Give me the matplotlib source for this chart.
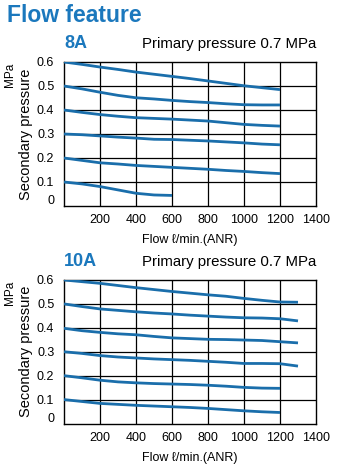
import matplotlib
matplotlib.use("Agg")
import matplotlib.pyplot as plt

plt.rcParams['font.family'] = ['Liberation Sans', 'DejaVu Sans']

# ---- data (every 100 l/min) ----
flow_1200 = [0, 100, 200, 300, 400, 500, 600, 700, 800, 900, 1000, 1100, 1200]
flow_1300 = flow_1200 + [1300]
flow_600 = [0, 100, 200, 300, 400, 500, 600]

p8a_06 = [0.600, 0.590, 0.579, 0.569, 0.558, 0.549, 0.540, 0.531, 0.521, 0.511, 0.501, 0.493, 0.485]
p8a_05 = [0.500, 0.488, 0.474, 0.461, 0.451, 0.446, 0.440, 0.435, 0.431, 0.426, 0.422, 0.421, 0.421]
p8a_04 = [0.400, 0.390, 0.381, 0.374, 0.368, 0.365, 0.362, 0.358, 0.354, 0.347, 0.340, 0.336, 0.333]
p8a_03 = [0.300, 0.297, 0.292, 0.287, 0.283, 0.278, 0.277, 0.274, 0.271, 0.267, 0.263, 0.258, 0.255]
p8a_02 = [0.200, 0.190, 0.180, 0.175, 0.169, 0.165, 0.161, 0.157, 0.153, 0.148, 0.144, 0.139, 0.135]
p8a_01 = [0.100, 0.092, 0.081, 0.067, 0.053, 0.046, 0.044]

p10a_06 = [0.600, 0.593, 0.586, 0.577, 0.568, 0.560, 0.552, 0.545, 0.538, 0.532, 0.523, 0.515, 0.508, 0.507]
p10a_05 = [0.500, 0.489, 0.479, 0.473, 0.467, 0.462, 0.458, 0.453, 0.449, 0.445, 0.442, 0.441, 0.438, 0.429]
p10a_04 = [0.398, 0.388, 0.381, 0.375, 0.371, 0.364, 0.358, 0.355, 0.352, 0.351, 0.349, 0.347, 0.342, 0.337]
p10a_03 = [0.300, 0.293, 0.284, 0.278, 0.274, 0.270, 0.267, 0.264, 0.260, 0.256, 0.251, 0.251, 0.250, 0.240]
p10a_02 = [0.200, 0.191, 0.181, 0.174, 0.170, 0.167, 0.165, 0.163, 0.160, 0.156, 0.151, 0.148, 0.147]
p10a_01 = [0.100, 0.092, 0.084, 0.080, 0.076, 0.073, 0.070, 0.067, 0.063, 0.058, 0.053, 0.049, 0.046]

x_ticks = [200, 400, 600, 800, 1000, 1200, 1400]
y_ticks = [0.1, 0.2, 0.3, 0.4, 0.5, 0.6]
y_labels = ['0.1', '0.2', '0.3', '0.4', '0.5', '0.6']
grid_x = [200, 400, 600, 800, 1000, 1200]
grid_y = [0.1, 0.2, 0.3, 0.4, 0.5]

title = "Flow feature"
panel_names = ["8A", "10A"]
subtitle = "Primary pressure 0.7 MPa"
xlabel = "Flow ℓ/min.(ANR)"
ylabel = "Secondary pressure"
unit = "MPa"

blue_title = '#1b78bd'
blue_line = '#1a6eab'

W, H = 344, 471
fig = plt.figure(figsize=(W / 100, H / 100), dpi=100)

def fx(px):
    return px / W

def fy(py):
    return 1 - py / H

fig.text(fx(7), fy(15), title, fontsize=16.5, fontweight='bold', color=blue_title,
         ha='left', va='center')

panels = [
    dict(top=62, bottom=206,
         series=[(flow_1200, p8a_06), (flow_1200, p8a_05), (flow_1200, p8a_04),
                 (flow_1200, p8a_03), (flow_1200, p8a_02), (flow_600, p8a_01)]),
    dict(top=280, bottom=423.5,
         series=[(flow_1300, p10a_06), (flow_1300, p10a_05), (flow_1300, p10a_04),
                 (flow_1300, p10a_03), (flow_1200, p10a_02), (flow_1200, p10a_01)]),
]

left, right = 64, 316
for i, p in enumerate(panels):
    ax = fig.add_axes([fx(left), fy(p['bottom']), (right - left) / W, (p['bottom'] - p['top']) / H])
    ax.set_xlim(0, 1400)
    ax.set_ylim(0, 0.6)
    for gx in grid_x:
        ax.axvline(gx, color='black', lw=0.9, zorder=1)
    for gy in grid_y:
        ax.axhline(gy, color='black', lw=0.9, zorder=1)
    for xs, ys in p['series']:
        ax.plot(xs, ys, color=blue_line, lw=2.0, zorder=3, solid_capstyle='butt',
                solid_joinstyle='round')
    for s in ax.spines.values():
        s.set_color('black')
        s.set_linewidth(1.0)
    ax.set_xticks(x_ticks)
    ax.set_xticklabels([str(v) for v in x_ticks], fontsize=9)
    ax.set_yticks([0.025] + y_ticks)
    ax.set_yticklabels(['0'] + y_labels, fontsize=9)
    ax.tick_params(length=0, pad=6)
    ax.tick_params(axis='y', pad=7)

    cy = (p['top'] + p['bottom']) / 2
    fig.text(fx(64), fy(p['top'] - 19), panel_names[i], fontsize=13, fontweight='bold',
             color=blue_title, ha='left', va='center')
    fig.text(fx(316), fy(p['top'] - 18), subtitle, fontsize=10.8, ha='right', va='center')
    fig.text(fx(26), fy(cy), ylabel, fontsize=10.5, rotation=90, ha='center', va='center')
    fig.text(fx(10), fy(p['top'] + 13), unit, fontsize=8.5, rotation=90, ha='center', va='center')
    fig.text(fx(190), fy(p['bottom'] + 34), xlabel, fontsize=9, ha='center', va='center')

fig.savefig('out.png', dpi=100, facecolor='white')
